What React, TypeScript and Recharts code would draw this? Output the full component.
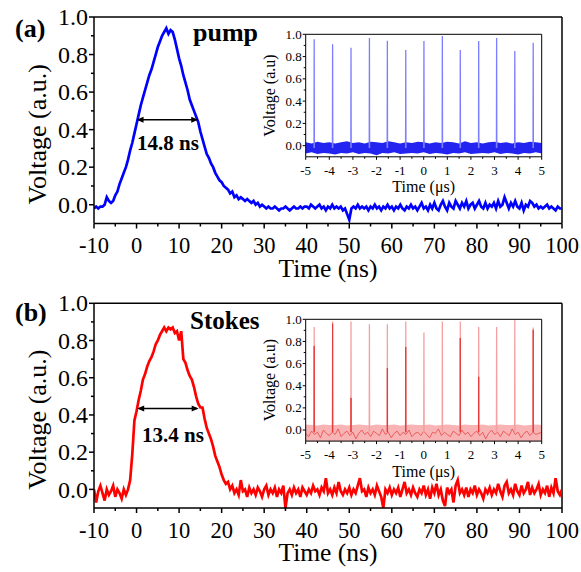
import React from 'react';
import { LineChart, ComposedChart, Line, Area, XAxis, YAxis, ReferenceLine } from 'recharts';

const FONT = "'Liberation Serif', 'Times New Roman', 'DejaVu Serif', serif";

// ---- main traces: sampled every 0.5 ns from -10 ns to 100 ns ----
const MAIN_T0 = -10;
const MAIN_DT = 0.5;

const pumpVoltage = [
  -0.02, -0.01, -0.02, -0.01, -0.01, 0.0, 0.04, 0.02, 0.01, 0.02, 0.05, 0.07, 0.11, 0.14, 0.17, 0.2, 0.24, 0.29, 0.33, 0.38,
  0.43, 0.48, 0.53, 0.57, 0.61, 0.65, 0.69, 0.72, 0.76, 0.8, 0.84, 0.87, 0.9, 0.92, 0.94, 0.91, 0.93, 0.92, 0.88, 0.83,
  0.78, 0.74, 0.69, 0.65, 0.61, 0.56, 0.53, 0.5, 0.47, 0.44, 0.39, 0.35, 0.31, 0.27, 0.25, 0.22, 0.2, 0.17, 0.15, 0.13,
  0.12, 0.1, 0.09, 0.08, 0.06, 0.07, 0.04, 0.05, 0.03, 0.04, 0.03, 0.02, 0.03, 0.02, 0.01, 0.02, 0.0, 0.01, -0.01, 0.0,
  -0.01, -0.02, -0.01, -0.02, -0.02, -0.01, -0.02, -0.03, -0.02, -0.02, -0.01, -0.02, -0.03, -0.02, -0.01, -0.02, -0.02, -0.01, -0.02, -0.01,
  -0.01, -0.02, 0.0, -0.01, -0.02, -0.01, 0.0, -0.02, -0.01, -0.03, -0.01, -0.02, 0.0, -0.02, -0.01, -0.02, -0.01, -0.03, -0.02, -0.05,
  -0.08, -0.02, -0.01, -0.02, 0.0, -0.02, -0.01, -0.02, -0.01, -0.03, -0.01, -0.02, 0.0, -0.02, -0.01, -0.03, -0.01, -0.02, 0.0, -0.02,
  -0.01, -0.03, -0.01, -0.02, 0.0, -0.02, -0.03, -0.01, -0.02, 0.0, -0.02, -0.01, -0.03, -0.01, 0.01, -0.02, -0.01, -0.03, 0.0, -0.02,
  0.01, -0.02, -0.03, 0.0, 0.02, -0.01, -0.03, 0.01, -0.01, -0.02, 0.02, 0.0, -0.02, 0.01, -0.01, 0.02, -0.02, 0.0, 0.01, -0.02,
  0.0, 0.02, -0.01, -0.02, 0.01, -0.02, 0.0, -0.01, 0.01, -0.02, 0.02, -0.01, 0.0, 0.04, 0.01, -0.02, 0.01, -0.01, 0.02, -0.01,
  -0.02, 0.01, -0.03, 0.0, -0.01, 0.02, 0.01, -0.01, 0.0, -0.02, -0.01, -0.02, -0.01, 0.0, -0.02, -0.01, -0.02, -0.03, -0.01, -0.02,
  -0.02,
];

const stokesVoltage = [
  0.0, -0.07, -0.01, 0.02, -0.02, -0.06, 0.0, -0.03, -0.01, 0.02, -0.04, 0.0, -0.02, -0.05, 0.0, -0.03, 0.0, 0.05, 0.19, 0.37,
  0.42, 0.48, 0.53, 0.59, 0.62, 0.66, 0.69, 0.71, 0.74, 0.78, 0.8, 0.83, 0.85, 0.87, 0.85, 0.87, 0.86, 0.87, 0.84, 0.85,
  0.8, 0.85, 0.7, 0.68, 0.64, 0.61, 0.59, 0.55, 0.5, 0.46, 0.44, 0.44, 0.38, 0.33, 0.3, 0.27, 0.23, 0.18, 0.15, 0.12,
  0.08, 0.05, 0.03, 0.04, 0.0, 0.02, -0.02, 0.0, -0.03, 0.05, -0.01, 0.0, -0.04, 0.01, -0.02, 0.0, -0.03, 0.01, -0.01, -0.04,
  0.0, 0.02, -0.03, 0.0, -0.02, 0.01, -0.04, 0.0, -0.02, 0.02, -0.1, -0.02, 0.0, -0.03, 0.01, -0.02, 0.0, -0.04, 0.01, -0.01,
  -0.03, 0.0, -0.02, 0.02, -0.01, 0.0, -0.03, 0.01, -0.01, 0.06, -0.02, 0.0, -0.03, 0.01, -0.02, 0.04, -0.01, -0.03, 0.0, -0.02,
  0.01, -0.03, 0.0, -0.02, 0.02, 0.06, -0.01, 0.0, -0.04, 0.01, -0.02, 0.0, -0.03, 0.02, -0.01, -0.04, -0.1, 0.0, -0.02, 0.01,
  -0.03, 0.0, -0.02, 0.01, -0.04, 0.0, 0.04, -0.02, 0.0, -0.03, 0.01, -0.02, -0.04, 0.0, -0.02, 0.02, -0.03, 0.0, -0.05, 0.01,
  -0.02, 0.03, -0.03, 0.0, -0.06, -0.09, 0.01, -0.02, 0.0, -0.07, 0.02, 0.05, -0.02, 0.0, -0.03, 0.01, -0.04, 0.0, -0.02, 0.02,
  -0.03, 0.0, -0.02, -0.05, 0.0, -0.02, 0.01, -0.03, 0.0, -0.02, 0.03, -0.01, -0.04, 0.02, 0.04, -0.02, 0.0, -0.03, 0.03, -0.01,
  -0.03, 0.02, -0.02, 0.0, 0.04, -0.03, 0.01, -0.02, 0.0, 0.03, -0.03, 0.0, -0.02, 0.02, -0.04, 0.01, -0.02, 0.06, -0.01, -0.03,
  0.0,
];

// FWHM markers (ns, a.u.)
const pumpFwhm = { from: 0, to: 14.5, level: 0.452, text: '14.8 ns' };
const stokesFwhm = { from: 0.15, to: 14.6, level: 0.435, text: '13.4 ns' };

// main axes ticks
const mainXTicks = [-10, -5, 0, 5, 10, 15, 20, 25, 30, 35, 40, 45, 50, 55, 60, 65, 70, 75, 80, 85, 90, 95, 100];
const mainYTicks = [0, 0.1, 0.2, 0.3, 0.4, 0.5, 0.6, 0.7, 0.8, 0.9, 1.0];

// ---- insets: pulse train over -5..5 us ----
const spikeTimes = [-4.64, -3.86, -3.08, -2.3, -1.54, -0.76, 0.01, 0.79, 1.55, 2.33, 3.09, 3.86, 4.64];
const pumpPeaks = [0.955, 0.91, 0.88, 0.967, 0.943, 0.86, 0.94, 0.985, 0.86, 0.94, 0.967, 0.85, 0.925];
const stokesPeaks = [0.93, 0.98, 0.98, 0.955, 0.955, 0.98, 0.88, 0.98, 0.98, 0.93, 0.93, 0.995, 0.925];
const stokesPeaksDense = [0.76, 0.96, 0.29, 0, 0.56, 0.75, 0, 0, 0.83, 0.48, 0, 0, 0.905];

// noise floor envelope, sampled every 0.25 us from -5 us
const BAND_T0 = -5;
const BAND_DT = 0.25;
const pumpBandHi = [
  0.03, 0.02, 0.035, 0.025, 0.03, 0.02, 0.03, 0.04, 0.025, 0.03, 0.02, 0.035, 0.03, 0.025, 0.04, 0.03, 0.02, 0.03, 0.025, 0.035,
  0.03, 0.02, 0.03, 0.025, 0.035, 0.03, 0.02, 0.04, 0.025, 0.03, 0.02, 0.03, 0.035, 0.025, 0.03, 0.02, 0.03, 0.025, 0.035, 0.03, 0.025,
];
const pumpBandLo = [
  -0.07, -0.06, -0.075, -0.065, -0.07, -0.08, -0.065, -0.07, -0.06, -0.075, -0.065, -0.07, -0.085, -0.065, -0.07, -0.06, -0.075, -0.07, -0.065, -0.07,
  -0.06, -0.075, -0.065, -0.07, -0.08, -0.065, -0.07, -0.06, -0.075, -0.07, -0.065, -0.07, -0.06, -0.075, -0.065, -0.07, -0.08, -0.065, -0.07, -0.06, -0.07,
];
const stokesBandHi = [
  0.05, 0.045, 0.04, 0.05, 0.045, 0.045, 0.05, 0.04, 0.045, 0.05, 0.045, 0.04, 0.05, 0.045, 0.045, 0.05, 0.04, 0.045, 0.05, 0.045,
  0.045, 0.05, 0.04, 0.045, 0.05, 0.045, 0.04, 0.05, 0.045, 0.045, 0.05, 0.04, 0.045, 0.05, 0.045, 0.045, 0.05, 0.04, 0.045, 0.05, 0.045,
];
const STOKES_BAND_FLOOR = -0.1;

// denser noise trace inside the Stokes floor, sampled every 0.125 us
const NOISE_DT = 0.125;
const stokesNoise = [
  -0.03, -0.06, -0.01, -0.04, -0.02, -0.07, 0.0, -0.03, -0.05, -0.02, -0.04, 0.01, -0.06, -0.03, -0.01, -0.05, -0.02, -0.08, -0.03, 0.0,
  -0.04, -0.02, -0.06, -0.01, -0.03, -0.05, 0.01, -0.04, -0.02, -0.07, -0.03, -0.01, -0.05, -0.02, -0.04, 0.0, -0.06, -0.03, -0.02, -0.05,
  -0.01, -0.04, -0.07, -0.02, -0.03, 0.01, -0.05, -0.02, -0.04, -0.06, -0.01, -0.03, -0.05, 0.0, -0.04, -0.02, -0.06, -0.03, -0.01, -0.05,
  -0.02, -0.08, -0.03, 0.0, -0.04, -0.02, -0.06, -0.01, -0.03, -0.05, 0.01, -0.04, -0.02, -0.07, -0.03, -0.01, -0.05, -0.02, -0.04, -0.03, -0.02,
];

const insetXTicks = [-5, -4.5, -4, -3.5, -3, -2.5, -2, -1.5, -1, -0.5, 0, 0.5, 1, 1.5, 2, 2.5, 3, 3.5, 4, 4.5, 5];
const insetYTicks = [0, 0.1, 0.2, 0.3, 0.4, 0.5, 0.6, 0.7, 0.8, 0.9, 1.0];

// ---- data builders ----
const toSeries = (vals: number[], t0: number, dt: number) => vals.map((v, i) => ({ t: t0 + i * dt, v }));

const spikeSeries = (times: number[], peaks: number[], base: number) => {
  const out: { t: number; v: number | null }[] = [];
  times.forEach((t, i) => {
    if (!peaks[i]) return;
    out.push({ t: t - 0.008, v: base }, { t, v: peaks[i] }, { t: t + 0.008, v: base }, { t: t + 0.01, v: null });
  });
  return out;
};

const bandSeries = (hi: number[], lo: number[] | number) =>
  hi.map((h, i) => ({ t: BAND_T0 + i * BAND_DT, band: [Array.isArray(lo) ? lo[i] : lo, h] }));

// ---- tick renderers ----
type TickCfg = {
  isMajor: (v: number) => boolean;
  majorLen: number;
  minorLen: number;
  fontSize: number;
  gap: number;
  fmt: (v: number) => string;
  sw: number;
};

const textStyle = (fontSize: number, bold = false): React.CSSProperties => ({
  fontFamily: FONT,
  fontSize,
  fontWeight: bold ? 700 : 400,
  fill: '#000',
});

const makeXTick = (c: TickCfg) => (p: any) => {
  const { x, y, payload } = p;
  const v = payload.value as number;
  const major = c.isMajor(v);
  return (
    <g>
      <line x1={x} y1={y} x2={x} y2={y + (major ? c.majorLen : c.minorLen)} stroke="#000" strokeWidth={c.sw} />
      {major && (
        <text x={x} y={y + c.gap} textAnchor="middle" style={textStyle(c.fontSize)}>
          {c.fmt(v)}
        </text>
      )}
    </g>
  );
};

const makeYTick = (c: TickCfg) => (p: any) => {
  const { x, y, payload } = p;
  const v = payload.value as number;
  const major = c.isMajor(v);
  return (
    <g>
      <line x1={x} y1={y} x2={x - (major ? c.majorLen : c.minorLen)} y2={y} stroke="#000" strokeWidth={c.sw} />
      {major && (
        <text x={x - c.gap} y={y} dy="0.34em" textAnchor="end" style={textStyle(c.fontSize)}>
          {c.fmt(v)}
        </text>
      )}
    </g>
  );
};

const near = (a: number, b: number) => Math.abs(a - b) < 1e-6;
const fmtInt = (v: number) => String(Math.round(v));
const fmt1 = (v: number) => v.toFixed(1);

const mainXTick = makeXTick({ isMajor: (v) => near(v / 10, Math.round(v / 10)), majorLen: 5, minorLen: 3, fontSize: 22.5, gap: 29.5, fmt: fmtInt, sw: 1.5 });
const mainYTick = makeYTick({ isMajor: (v) => Math.round(v * 10) % 2 === 0, majorLen: 5, minorLen: 3, fontSize: 24, gap: 6, fmt: fmt1, sw: 1.5 });
const insetXTick = makeXTick({ isMajor: (v) => near(v, Math.round(v)), majorLen: 3, minorLen: 2, fontSize: 13, gap: 18, fmt: fmtInt, sw: 1 });
const insetYTick = makeYTick({ isMajor: (v) => Math.round(v * 10) % 2 === 0, majorLen: 3, minorLen: 2, fontSize: 13, gap: 4, fmt: fmt1, sw: 1 });

// ---- axis title renderers ----
const xTitle = (text: string, fontSize: number, baseline: number) => (p: any) => {
  const vb = p.viewBox || {};
  return (
    <text x={vb.x + vb.width / 2} y={vb.y + baseline} textAnchor="middle" style={textStyle(fontSize)}>
      {text}
    </text>
  );
};

const yTitle = (text: string, fontSize: number, xBase: number, shift: number) => (p: any) => {
  const vb = p.viewBox || {};
  const cy = vb.y + vb.height / 2 + shift;
  return (
    <text x={xBase} y={cy} transform={`rotate(-90, ${xBase}, ${cy})`} textAnchor="middle" style={textStyle(fontSize)}>
      {text}
    </text>
  );
};

const ArrowShape = (p: any) => {
  const { x1, y1, x2, y2 } = p;
  const h = 7;
  const w = 3;
  return (
    <g>
      <line x1={x1 + 2} y1={y1} x2={x2 - 2} y2={y2} stroke="#000" strokeWidth={1.5} />
      <polygon points={`${x1},${y1} ${x1 + h},${y1 - w} ${x1 + h},${y1 + w}`} fill="#000" />
      <polygon points={`${x2},${y2} ${x2 - h},${y2 - w} ${x2 - h},${y2 + w}`} fill="#000" />
    </g>
  );
};

type MainProps = {
  values: number[];
  color: string;
  fwhm: { from: number; to: number; level: number };
  marginTop: number;
  xAxisHeight: number;
};

const MainPanel = ({ values, color, fwhm, marginTop, xAxisHeight }: MainProps) => {
  const data = toSeries(values, MAIN_T0, MAIN_DT);
  return (
    <LineChart width={581} height={286} data={data} margin={{ top: marginTop, right: 19, bottom: 0, left: 0 }}>
      <XAxis
        dataKey="t"
        type="number"
        domain={[-10, 100]}
        ticks={mainXTicks}
        interval={0}
        allowDataOverflow
        height={xAxisHeight}
        tickSize={0}
        tickMargin={0}
        tick={mainXTick}
        tickLine={false}
        axisLine={{ stroke: '#000', strokeWidth: 1.5 }}
        label={xTitle('Time (ns)', 25.5, 53)}
      />
      <YAxis
        type="number"
        domain={[-0.1, 1.0]}
        ticks={mainYTicks}
        interval={0}
        allowDataOverflow
        width={94}
        tickSize={0}
        tickMargin={0}
        tick={mainYTick}
        tickLine={false}
        axisLine={{ stroke: '#000', strokeWidth: 1.5 }}
        label={yTitle('Voltage (a.u.)', 26, 46, 14)}
      />
      <ReferenceLine y={1.0} stroke="#000" strokeWidth={1.5} />
      <ReferenceLine x={100} stroke="#000" strokeWidth={1.5} />
      <Line type="linear" dataKey="v" stroke={color} strokeWidth={2.7} dot={false} isAnimationActive={false} />
      <ReferenceLine
        segment={[
          { x: fwhm.from, y: fwhm.level },
          { x: fwhm.to, y: fwhm.level },
        ]}
        shape={ArrowShape}
      />
    </LineChart>
  );
};

type InsetProps = {
  xAxisHeight: number;
  children: React.ReactNode;
};

const InsetPanel = ({ xAxisHeight, children }: InsetProps) => (
  <ComposedChart width={330} height={180} margin={{ top: 14.3, right: 28.3, bottom: 0, left: 0 }}>
    <XAxis
      dataKey="t"
      type="number"
      domain={[-5, 5]}
      ticks={insetXTicks}
      interval={0}
      allowDataOverflow
      height={xAxisHeight}
      tickSize={0}
      tickMargin={0}
      tick={insetXTick}
      tickLine={false}
      axisLine={{ stroke: '#000', strokeWidth: 1 }}
      label={xTitle('Time (\u03bcs)', 16, 35.5)}
    />
    <YAxis
      type="number"
      domain={[-0.1, 1.0]}
      ticks={insetYTicks}
      interval={0}
      allowDataOverflow
      width={65.7}
      tickSize={0}
      tickMargin={0}
      tick={insetYTick}
      tickLine={false}
      axisLine={{ stroke: '#000', strokeWidth: 1 }}
      label={yTitle('Voltage (a.u)', 16, 35, 0)}
    />
    {children}
    <ReferenceLine y={1.0} stroke="#000" strokeWidth={1} />
    <ReferenceLine x={5} stroke="#000" strokeWidth={1} />
  </ComposedChart>
);

export default function App() {
  const pumpSpikes = spikeSeries(spikeTimes, pumpPeaks, -0.02);
  const stokesSpikes = spikeSeries(spikeTimes, stokesPeaks, -0.02);
  const stokesSpikesDense = spikeSeries(spikeTimes, stokesPeaksDense, -0.02);
  const pumpBand = bandSeries(pumpBandHi, pumpBandLo);
  const stokesBand = bandSeries(stokesBandHi, STOKES_BAND_FLOOR);
  const stokesNoiseData = toSeries(stokesNoise, BAND_T0, NOISE_DT);

  return (
    <div style={{ position: 'absolute', left: 0, top: 0, width: 581, height: 572, background: '#fff', overflow: 'hidden', fontFamily: FONT }}>
      <div style={{ position: 'absolute', left: 0, top: 0 }}>
        <MainPanel values={pumpVoltage} color="#0000ff" fwhm={pumpFwhm} marginTop={17} xAxisHeight={62.5} />
      </div>
      <div style={{ position: 'absolute', left: 0, top: 286 }}>
        <MainPanel values={stokesVoltage} color="#ff0000" fwhm={stokesFwhm} marginTop={17.3} xAxisHeight={64} />
      </div>
      <div style={{ position: 'absolute', left: 240, top: 20 }}>
        <InsetPanel xAxisHeight={43.2}>
          <Line data={pumpSpikes} type="linear" dataKey="v" stroke="#7d7dff" strokeWidth={1.3} dot={false} connectNulls={false} isAnimationActive={false} />
          <Area data={pumpBand} type="linear" dataKey="band" stroke="none" fill="#2424f0" fillOpacity={1} isAnimationActive={false} />
        </InsetPanel>
      </div>
      <div style={{ position: 'absolute', left: 240, top: 305 }}>
        <InsetPanel xAxisHeight={43.9}>
          <Area data={stokesBand} type="linear" dataKey="band" stroke="none" fill="#f8b4b4" fillOpacity={1} isAnimationActive={false} />
          <Line data={stokesNoiseData} type="linear" dataKey="v" stroke="#e84848" strokeWidth={0.8} dot={false} isAnimationActive={false} />
          <Line data={stokesSpikes} type="linear" dataKey="v" stroke="#f5a0a0" strokeWidth={1.3} dot={false} connectNulls={false} isAnimationActive={false} />
          <Line data={stokesSpikesDense} type="linear" dataKey="v" stroke="#e83a3a" strokeWidth={1} dot={false} connectNulls={false} isAnimationActive={false} />
        </InsetPanel>
      </div>
      <svg width={581} height={572} style={{ position: 'absolute', left: 0, top: 0, pointerEvents: 'none' }}>
        <text x={15} y={37} style={textStyle(26, true)}>(a)</text>
        <text x={193} y={40.5} style={textStyle(26, true)}>pump</text>
        <text x={137} y={149.5} style={textStyle(21, true)}>{pumpFwhm.text}</text>
        <text x={15} y={321} style={textStyle(26, true)}>(b)</text>
        <text x={190} y={329} style={textStyle(25, true)}>Stokes</text>
        <text x={142} y={441.5} style={textStyle(21, true)}>{stokesFwhm.text}</text>
      </svg>
    </div>
  );
}
